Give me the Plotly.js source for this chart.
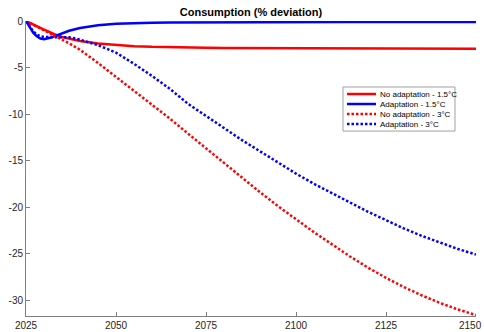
<!DOCTYPE html>
<html>
<head>
<meta charset="utf-8">
<script src="https://cdn.plot.ly/plotly-3.0.1.min.js"></script>
<style>html,body{margin:0;padding:0;background:#fff;}#chart{width:484px;height:332px;}</style>
</head>
<body>
<div id="chart"></div>
<script>
var years = [2025,2026,2027,2028,2029,2030,2031,2032,2033,2035,2037,2040,2045,2050,2055,2060,2065,2070,2075,2080,2085,2090,2095,2100,2105,2110,2115,2120,2125,2130,2135,2140,2145,2150];

var noAdapt15 = [0,-0.2,-0.4,-0.58,-0.75,-0.92,-1.1,-1.28,-1.45,-1.72,-1.92,-2.15,-2.42,-2.6,-2.7,-2.78,-2.83,-2.86,-2.88,-2.9,-2.91,-2.92,-2.93,-2.94,-2.94,-2.95,-2.95,-2.95,-2.96,-2.96,-2.96,-2.96,-2.97,-2.97];

var adapt15 = [0,-0.7,-1.25,-1.65,-1.88,-1.95,-1.9,-1.78,-1.62,-1.3,-1.05,-0.75,-0.45,-0.3,-0.22,-0.18,-0.15,-0.14,-0.13,-0.13,-0.13,-0.12,-0.12,-0.12,-0.12,-0.12,-0.12,-0.12,-0.12,-0.12,-0.12,-0.12,-0.12,-0.12];

var noAdapt3 = [0,-0.2,-0.4,-0.6,-0.8,-1.0,-1.2,-1.4,-1.6,-2.0,-2.4,-3.1,-4.5,-6.0,-7.5,-9.0,-10.5,-12.1,-13.7,-15.3,-16.9,-18.4,-19.9,-21.3,-22.7,-24.0,-25.3,-26.5,-27.6,-28.6,-29.5,-30.3,-31.0,-31.6];

var adapt3 = [0,-0.6,-1.1,-1.45,-1.65,-1.72,-1.72,-1.7,-1.68,-1.68,-1.75,-2.0,-2.6,-3.4,-4.6,-5.9,-7.3,-8.9,-10.2,-11.5,-12.8,-14.0,-15.2,-16.4,-17.5,-18.5,-19.5,-20.5,-21.4,-22.3,-23.1,-23.8,-24.5,-25.1];

var seriesNames = ['No adaptation - 1.5°C','Adaptation - 1.5°C','No adaptation - 3°C','Adaptation - 3°C'];
var xTicks = [2025,2050,2075,2100,2125,2150];
var yTicks = [-30,-25,-20,-15,-10,-5,0];

var RED = 'rgb(255,0,0)', BLUE = 'rgb(0,0,255)';
var DOT = '2.5px,2px';
var styles = [
  {color: RED, width: 2.5, dash: 'solid'},
  {color: BLUE, width: 2.5, dash: 'solid'},
  {color: RED, width: 2.5, dash: DOT},
  {color: BLUE, width: 2.5, dash: DOT}
];
var vals = [noAdapt15, adapt15, noAdapt3, adapt3];
var FONT = 'Liberation Sans, Arial, sans-serif';

var traces = vals.map(function(v, i){
  return {x: years, y: v, type: 'scatter', mode: 'lines', name: seriesNames[i],
          line: styles[i], showlegend: false, hoverinfo: 'skip'};
});

// custom compact legend (MATLAB style)
var lgX0 = 0.7044, lgX1 = 0.9533, lgY0 = 0.627, lgY1 = 0.7763;
var sampleX0 = 0.7133, sampleX1 = 0.7778, textX = 0.7822;
var rowY = [0.7525, 0.7186, 0.6847, 0.6508];
var shapes = [{type:'rect', xref:'paper', yref:'paper', x0:lgX0, x1:lgX1, y0:lgY0, y1:lgY1,
  line:{color:'#a0a0a0', width:1}, fillcolor:'#ffffff', layer:'above'}];
var annotations = [];
seriesNames.forEach(function(n, i){
  shapes.push({type:'line', xref:'paper', yref:'paper', x0:sampleX0, x1:sampleX1, y0:rowY[i], y1:rowY[i],
    line:{color:styles[i].color, width:styles[i].width, dash:styles[i].dash}, layer:'above'});
  annotations.push({xref:'paper', yref:'paper', x:textX, y:rowY[i], xanchor:'left', yanchor:'middle',
    text:n, showarrow:false, font:{family:FONT, size:8, color:'#000'}});
});

// last x tick label, nudged left so it stays inside the page (as MATLAB does)
var lastTick = xTicks[xTicks.length - 1];
annotations.push({xref:'x', yref:'paper', x:lastTick, y:0, xanchor:'right', yanchor:'middle',
  xshift: 8, yshift: -9, text: String(lastTick), showarrow:false,
  font:{family:FONT, size:10, color:'#262626'}});

var axisCommon = {
  showgrid: false, zeroline: false, showline: true, linecolor: '#808080', linewidth: 1,
  ticks: 'inside', ticklen: 4, tickcolor: '#808080', tickwidth: 1,
  tickfont: {family: FONT, size: 10, color: '#262626'},
  mirror: false
};

var layout = {
  width: 484, height: 332,
  margin: {l: 26, r: 8, t: 21, b: 16, pad: 0},
  paper_bgcolor: '#fff', plot_bgcolor: '#fff',
  showlegend: false,
  title: {text: '<b>Consumption (% deviation)</b>', x: 0.5186, xanchor: 'center', y: 0.964, yanchor: 'middle', yref: 'container',
          font: {family: FONT, size: 11, color: '#000'}},
  xaxis: Object.assign({}, axisCommon, {range: [2025, 2150], tickmode: 'array', tickvals: xTicks,
          ticktext: xTicks.map(function(t){ return t === lastTick ? '' : String(t); })}),
  yaxis: Object.assign({}, axisCommon, {range: [-31.7, 0], tickmode: 'array', tickvals: yTicks, ticktext: yTicks.map(String)}),
  shapes: shapes,
  annotations: annotations
};

Plotly.newPlot('chart', traces, layout, {displayModeBar: false, staticPlot: true});
</script>
</body>
</html>
